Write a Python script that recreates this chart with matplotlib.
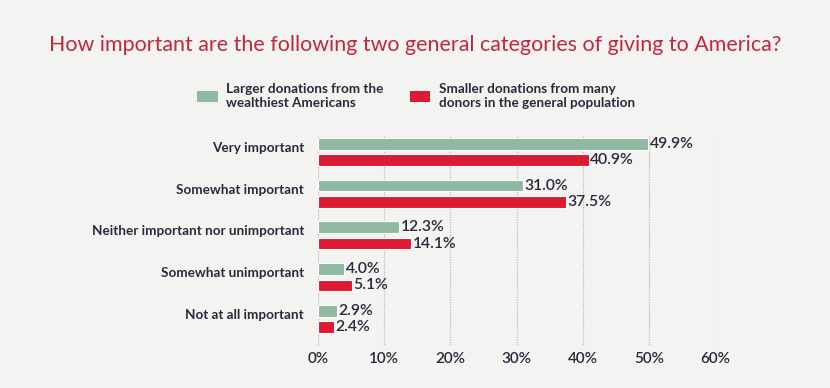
import matplotlib
matplotlib.use("Agg")
import matplotlib.pyplot as plt
from matplotlib.patches import Patch
import numpy as np

categories = ["Very important", "Somewhat important", "Neither important nor unimportant",
              "Somewhat unimportant", "Not at all important"]
wealthy = [49.9, 31.0, 12.3, 4.0, 2.9]
general = [40.9, 37.5, 14.1, 5.1, 2.4]
series_names = ["Larger donations from the\nwealthiest Americans",
                "Smaller donations from many\ndonors in the general population"]
xticks = [0, 10, 20, 30, 40, 50, 60]

BG = "#f3f3f1"
GREEN = "#8fb9a0"
RED = "#dc1a32"
TXT = "#2a2a3c"
TITLE = "#c0283f"

plt.rcParams['font.family'] = ['Lato', 'DejaVu Sans']

fig = plt.figure(figsize=(8.3, 3.88), dpi=100, facecolor=BG)
ax = fig.add_axes([318/830, 1-345/388, (715-318)/830, (345-136)/388])
ax.set_facecolor(BG)

y = np.arange(len(categories))
h = 0.28
off = 0.195
b1 = ax.barh(y - off, wealthy, height=h, color=GREEN, edgecolor="white", linewidth=0.8, zorder=3)
b2 = ax.barh(y + off, general, height=h, color=RED, edgecolor="white", linewidth=0.8, zorder=3)

for bars, vals in ((b1, wealthy), (b2, general)):
    for b, v in zip(bars, vals):
        ax.text(v + 0.2, b.get_y() + b.get_height()/2, f"{v:.1f}%", va="center", ha="left",
                fontsize=11.3, color=TXT, zorder=4, fontweight="semibold")

ax.set_xlim(0, 60)
ax.set_ylim(4.62, -0.38)
ax.set_xticks(xticks)
ax.set_xticklabels([f"{t}%" for t in xticks], fontsize=11, color=TXT, fontweight="semibold")
ax.set_yticks(y - 0.12)
ax.set_yticklabels(categories, fontsize=9.7, color=TXT, fontweight="bold")
ax.tick_params(axis="both", length=0)
ax.tick_params(axis="x", pad=5)
ax.tick_params(axis="y", pad=10)
ax.grid(axis="x", color="#b8b8b8", linestyle=(0, (1, 1)), linewidth=0.9, zorder=0)
for s in ax.spines.values():
    s.set_visible(False)

fig.text(0.5, 1-45/388, "How important are the following two general categories of giving to America?",
         ha="center", va="center", fontsize=15.4, color=TITLE, family=['Lato', 'DejaVu Sans'])

fig.legend(handles=[Patch(facecolor=GREEN, label=series_names[0]),
                    Patch(facecolor=RED, label=series_names[1])],
           loc="center", bbox_to_anchor=(416/830, 1-96/388), ncol=2, frameon=False,
           handlelength=1.5, handleheight=0.95, columnspacing=2.0,
           handletextpad=0.6, labelcolor=TXT, prop={'weight': 'bold', 'size': 9.75})

fig.savefig("out.png", dpi=100, facecolor=BG)
